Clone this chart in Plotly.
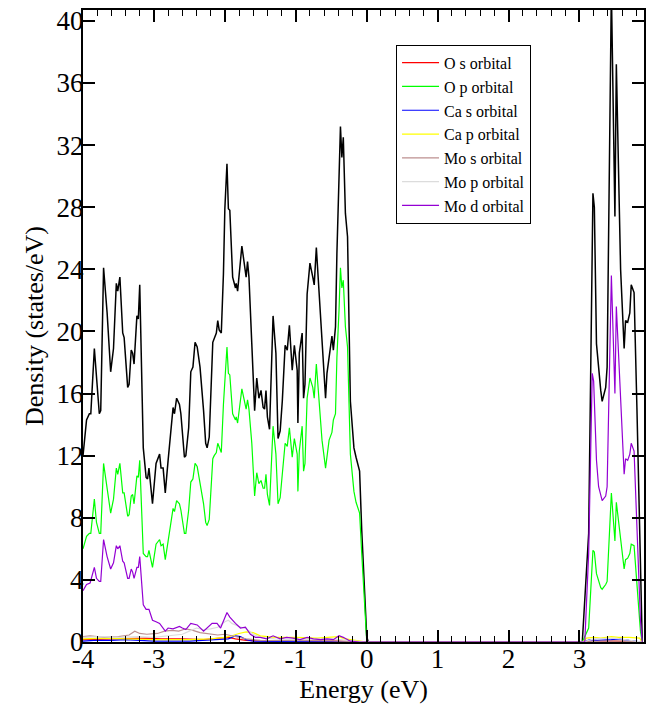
import plotly.graph_objects as go

# ---------------- data (energy in eV, DOS in states/eV) ----------------
total_x = [-4.00, -3.95, -3.91, -3.89, -3.84, -3.81, -3.77, -3.75, -3.71, -3.66, -3.61, -3.57, -3.53, -3.51,
           -3.48, -3.44, -3.42, -3.37, -3.35, -3.32, -3.30, -3.28, -3.24, -3.22, -3.20, -3.15, -3.11, -3.09,
           -3.07, -3.02, -2.97, -2.92, -2.90, -2.87, -2.84, -2.80, -2.73, -2.71, -2.68, -2.64, -2.62, -2.57,
           -2.55, -2.51, -2.48, -2.45, -2.42, -2.39, -2.35, -2.30, -2.27, -2.25, -2.22, -2.17, -2.15, -2.12,
           -2.10, -2.08, -2.05, -2.02, -2.00, -1.97, -1.95, -1.93, -1.89, -1.85, -1.84, -1.82, -1.76, -1.73,
           -1.70, -1.68, -1.66, -1.62, -1.58, -1.55, -1.52, -1.49, -1.46, -1.44, -1.42, -1.40, -1.37, -1.32,
           -1.28, -1.25, -1.22, -1.19, -1.15, -1.12, -1.09, -1.05, -1.02, -0.98, -0.97, -0.95, -0.91, -0.89,
           -0.87, -0.84, -0.80, -0.76, -0.74, -0.71, -0.67, -0.63, -0.58, -0.56, -0.53, -0.49, -0.47, -0.44,
           -0.42, -0.39, -0.37, -0.35, -0.33, -0.30, -0.27, -0.23, -0.18, -0.15, -0.10, -0.07, -0.03, 0.00,
           0.02,
           3.04, 3.13, 3.19, 3.21, 3.24, 3.30, 3.32, 3.37, 3.39, 3.45, 3.50, 3.52, 3.58, 3.63, 3.65, 3.68,
           3.71, 3.73, 3.77, 3.81, 3.86, 3.885]
total_y = [12.0, 14.3, 14.7, 14.7, 18.9, 17.0, 14.7, 14.9, 24.1, 21.2, 17.4, 18.9, 23.1, 22.6,
           23.5, 19.9, 19.6, 16.4, 16.6, 18.8, 18.6, 17.9, 21.0, 20.8, 23.0, 12.5, 10.6, 10.5,
           11.2, 8.9, 11.5, 12.1, 11.2, 11.2, 9.6, 11.7, 15.1, 14.7, 15.7, 15.3, 14.7, 11.9,
           12.0, 13.8, 17.4, 17.7, 19.3, 19.0, 17.7, 14.9, 12.8, 12.5, 13.2, 19.3, 19.6, 19.9,
           20.7, 20.1, 19.9, 23.7, 27.9, 30.8, 27.9, 27.8, 23.5, 22.8, 23.1, 22.6, 25.5, 24.4,
           23.5, 24.5, 23.5, 19.2, 14.9, 17.0, 15.7, 16.2, 15.1, 15.0, 16.2, 14.5, 13.7, 21.0,
           18.6, 13.1, 13.6, 15.5, 19.1, 18.8, 20.4, 17.5, 19.1, 17.5, 14.1, 18.6, 19.9, 15.7,
           16.6, 22.4, 24.4, 23.5, 23.0, 25.4, 22.2, 19.0, 15.7, 17.3, 18.3, 19.7, 18.8, 20.3,
           25.0, 30.2, 33.2, 31.2, 32.5, 27.6, 26.1, 15.5, 12.5, 11.9, 11.0, 7.2, 3.5, 0.4,
           0.0,
           0.0, 7.0, 28.9, 28.0, 19.2, 16.2, 15.5, 16.4, 17.7, 42.0, 27.4, 37.2, 24.0, 18.9, 20.7, 20.6,
           21.2, 23.0, 22.5, 15.1, 5.7, 0.0]

op_x = total_x
op_y = [6.0, 6.8, 7.0, 7.0, 9.2, 7.7, 7.0, 7.0, 11.5, 9.9, 8.3, 9.2, 11.2, 10.8,
        11.5, 9.6, 9.6, 8.1, 8.2, 9.4, 9.5, 8.9, 10.7, 10.6, 11.7, 5.7, 5.5, 5.5,
        5.9, 4.8, 6.3, 6.6, 6.2, 6.3, 5.3, 6.5, 8.6, 8.4, 9.1, 8.9, 8.5, 7.0,
        7.0, 8.5, 10.3, 10.5, 11.5, 11.3, 10.2, 8.9, 7.7, 7.5, 7.9, 11.8, 12.0, 12.2,
        12.8, 12.5, 12.2, 15.3, 17.0, 19.0, 17.3, 17.2, 14.7, 14.3, 14.5, 14.1, 16.3, 15.6,
        15.0, 15.6, 15.0, 12.8, 9.4, 10.9, 10.2, 10.4, 9.9, 9.9, 10.8, 9.5, 8.8, 13.9,
        12.1, 8.9, 9.3, 10.8, 12.8, 12.6, 13.8, 11.9, 13.1, 12.1, 9.7, 12.3, 13.9, 11.0,
        11.5, 15.7, 17.0, 16.4, 15.7, 17.9, 15.5, 13.0, 11.2, 11.9, 13.0, 13.5, 14.3, 14.7,
        18.3, 21.4, 24.1, 22.8, 23.3, 20.3, 19.0, 12.1, 9.7, 9.0, 8.3, 5.7, 2.6, 0.1,
        0.0,
        0.0, 0.9, 5.9, 5.8, 4.4, 3.5, 3.4, 3.7, 3.9, 9.6, 6.5, 9.0, 6.8, 4.7, 5.3, 5.4,
        5.7, 6.3, 6.2, 3.9, 0.7, 0.0]

mod_x = [-4.00, -3.95, -3.90, -3.84, -3.81, -3.77, -3.75, -3.71, -3.66, -3.61, -3.57, -3.53, -3.51, -3.48,
         -3.44, -3.42, -3.37, -3.35, -3.32, -3.30, -3.28, -3.24, -3.22, -3.20, -3.15, -3.11, -3.07, -3.02,
         -2.97, -2.92, -2.84, -2.80, -2.73, -2.64, -2.60, -2.55, -2.48, -2.39, -2.30, -2.25, -2.18, -2.11,
         -2.06, -1.97, -1.93, -1.85, -1.78, -1.71, -1.64, -1.57, -1.50, -1.41, -1.32, -1.22, -1.13, -1.04,
         -0.94, -0.84, -0.75, -0.65, -0.56, -0.47, -0.39, -0.33, -0.23, -0.10, 0.00,
         3.05, 3.075, 3.13, 3.18, 3.20, 3.24, 3.27, 3.32, 3.37, 3.39, 3.45, 3.50, 3.52, 3.58, 3.63,
         3.65, 3.68, 3.71, 3.73, 3.77, 3.81, 3.86, 3.885]
mod_y = [3.3, 3.7, 3.8, 4.8, 4.1, 3.9, 3.9, 6.6, 5.5, 4.7, 5.1, 6.2, 6.0, 6.2,
         5.2, 5.1, 4.1, 4.1, 4.7, 4.5, 4.1, 4.8, 4.8, 5.5, 2.4, 2.1, 2.1, 1.4,
         1.3, 1.2, 0.7, 0.9, 0.85, 1.0, 0.9, 0.8, 1.2, 1.1, 0.7, 0.9, 1.2, 1.2,
         0.9, 1.9, 1.6, 1.2, 0.9, 0.95, 0.5, 0.3, 0.3, 0.2, 0.4, 0.2, 0.3, 0.25,
         0.15, 0.3, 0.2, 0.15, 0.2, 0.15, 0.4, 0.3, 0.05, 0.0, 0.0,
         0.0, 0.0, 5.7, 17.3, 16.8, 11.7, 10.0, 9.1, 9.4, 10.0, 23.6, 16.0, 21.6, 15.8, 10.8,
         11.8, 11.7, 12.1, 12.8, 12.3, 7.8, 1.4, 0.0]

os_x = [-4.0, -3.6, -3.3, -3.1, -2.9, -2.6, -2.3, -2.1, -1.95, -1.85, -1.7, -1.4, -1.0, -0.4, 0.0,
        3.05, 3.2, 3.5, 3.88]
os_y = [0.15, 0.2, 0.25, 0.25, 0.2, 0.2, 0.15, 0.25, 0.3, 0.2, 0.1, 0.05, 0.05, 0.05, 0.0,
        0.0, 0.05, 0.05, 0.0]

cas_x = [-4.0, -3.85, -3.6, -3.4, -3.2, -3.0, -2.5, -2.1, -1.95, -1.85, -1.78, -1.7, -1.6, 0.0,
         3.05, 3.15, 3.25, 3.45, 3.55, 3.7, 3.88]
cas_y = [0.05, 0.1, 0.1, 0.15, 0.1, 0.05, 0.05, 0.15, 0.2, 0.4, 0.35, 0.15, 0.05, 0.0,
         0.0, 0.15, 0.1, 0.15, 0.2, 0.1, 0.0]

cap_x = [-4.0, -3.7, -3.4, -3.0, -2.5, -2.2, -2.0, -1.9, -1.8, -1.7, -1.6, -1.5, -1.3, -1.0, -0.7,
         -0.5, -0.4, -0.3, -0.1, 0.0,
         3.05, 3.1, 3.2, 3.3, 3.45, 3.55, 3.7, 3.85, 3.88]
cap_y = [0.2, 0.25, 0.2, 0.15, 0.15, 0.2, 0.3, 0.4, 0.55, 0.65, 0.6, 0.4, 0.3, 0.3, 0.25,
         0.3, 0.35, 0.2, 0.05, 0.0,
         0.0, 0.25, 0.3, 0.25, 0.35, 0.3, 0.3, 0.25, 0.0]

mos_x = [-4.0, -3.9, -3.7, -3.5, -3.35, -3.27, -3.2, -3.1, -2.95, -2.85, -2.75, -2.65, -2.55, -2.45,
         -2.35, -2.25, -2.1, -2.0, -1.9, -1.8, -1.7, -1.5, -1.0, -0.5, 0.0,
         3.05, 3.3, 3.6, 3.88]
mos_y = [0.35, 0.4, 0.3, 0.35, 0.45, 0.7, 0.55, 0.5, 0.55, 0.7, 0.75, 0.7, 0.85, 0.75,
         0.6, 0.55, 0.45, 0.5, 0.4, 0.3, 0.2, 0.1, 0.08, 0.08, 0.0,
         0.0, 0.05, 0.05, 0.0]

mop_x = [-4.0, -3.8, -3.5, -3.2, -3.0, -2.8, -2.6, -2.5, -2.4, -2.3, -2.2, -2.1, -2.0, -1.95, -1.9,
         -1.8, -1.7, -1.6, -1.5, -1.3, -1.0, -0.5, -0.2, 0.0,
         3.05, 3.2, 3.5, 3.88]
mop_y = [0.3, 0.35, 0.3, 0.35, 0.3, 0.4, 0.5, 0.7, 0.9, 0.8, 0.85, 0.95, 1.3, 1.4, 1.2,
         1.0, 0.85, 0.5, 0.3, 0.2, 0.15, 0.2, 0.1, 0.0,
         0.0, 0.2, 0.25, 0.0]

x_tick_vals = [-4, -3, -2, -1, 0, 1, 2, 3]
x_tick_text = ["-4", "-3", "-2", "-1", "0", "1", "2", "3"]
y_tick_vals = [0, 4, 8, 12, 16, 20, 24, 28, 32, 36, 40]
y_tick_text = ["0", "4", "8", "12", "16", "20", "24", "28", "32", "36", "40"]

series = [
    ("O s orbital", os_x, os_y, "#ff0000"),
    ("O p orbital", op_x, op_y, "#00ff00"),
    ("Ca s orbital", cas_x, cas_y, "#0000ff"),
    ("Ca p orbital", cap_x, cap_y, "#ffff00"),
    ("Mo s orbital", mos_x, mos_y, "#bc8f8f"),
    ("Mo p orbital", mop_x, mop_y, "#dcdcdc"),
    ("Mo d orbital", mod_x, mod_y, "#9400d3"),
]

FONT = "Liberation Serif"

fig = go.Figure()
fig.add_trace(go.Scatter(x=total_x, y=total_y, mode="lines", name="Total",
                         line=dict(color="black", width=1.5), showlegend=False))
for name, xs, ys, col in series:
    fig.add_trace(go.Scatter(x=xs, y=ys, mode="lines", name=name,
                             line=dict(color=col, width=1.2)))

axis_common = dict(
    showline=True, linecolor="black", linewidth=2, mirror="ticks",
    ticks="inside", ticklen=12, tickwidth=1.5, tickcolor="black",
    showgrid=False, zeroline=False,
    tickfont=dict(family=FONT, size=27, color="black"),
    ticklabelstandoff=-8,
    ticklabeloverflow="allow",
)

fig.update_xaxes(
    range=[-4, 3.91], tickmode="array", tickvals=x_tick_vals, ticktext=x_tick_text,
    minor=dict(tickmode="linear", tick0=-4, dtick=0.2, ticks="inside", ticklen=6,
               tickwidth=1.2, tickcolor="black", showgrid=False),
    title=dict(text="Energy (eV)", font=dict(family=FONT, size=26, color="black"), standoff=8),
    **axis_common,
)
fig.update_yaxes(
    range=[0, 40.7], tickmode="array", tickvals=y_tick_vals, ticktext=y_tick_text,
    title=dict(text="Density (states/eV)", font=dict(family=FONT, size=26, color="black"), standoff=5),
    **axis_common,
)

fig.update_layout(
    width=652, height=704,
    margin=dict(l=83, r=8, t=10, b=62, autoexpand=False),
    paper_bgcolor="white", plot_bgcolor="white",
    font=dict(family=FONT, color="black"),
    legend=dict(
        x=0.558, y=0.945, xanchor="left", yanchor="top",
        bgcolor="white", bordercolor="black", borderwidth=1,
        font=dict(family=FONT, size=16, color="black"),
        itemwidth=37,
    ),
)

# remove the page's default 8 px body margin so the figure fills the window exactly
fig.write_html(
    "out.html",
    config={"displayModeBar": False},
    post_script="document.body.style.margin='0px';document.body.style.overflow='hidden';",
)
